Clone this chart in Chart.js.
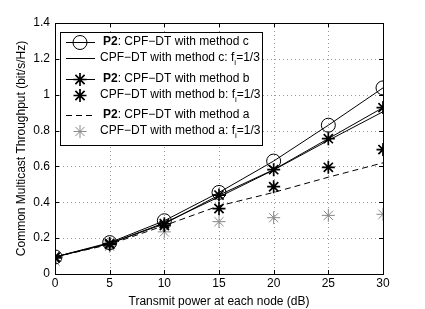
<!DOCTYPE html>
<html>
<head>
<meta charset="utf-8">
<script src="https://cdn.jsdelivr.net/npm/chart.js@4"></script>
<style>
html,body{margin:0;padding:0;background:#fff}
#wrap{width:425px;height:309px}
</style>
</head>
<body>
<div id="wrap"><canvas id="c" width="425" height="309"></canvas></div>
<script>
// transmit power (dB)
const power = [0,5,10,15,20,25,30]

// throughput values
const p2C  = [0.095,0.175,0.297,0.455,0.630,0.830,1.038]
const fixC = [0.095,0.170,0.285,0.430,0.580,0.745,0.905]
const p2B  = [0.095,0.170,0.280,0.440,0.582,0.755,0.928]
const fixB = [0.090,0.165,0.270,0.365,0.487,0.595,0.694]
const p2A  = [0.095,0.165,0.270,0.380,0.455,0.540,0.620]
const fixA = [0.072,0.155,0.235,0.292,0.314,0.327,0.333]

const yTicks = [0,0.2,0.4,0.6,0.8,1,1.2,1.4]
const xTicks = [0,5,10,15,20,25,30]

const FONT = "'Liberation Sans', Arial, sans-serif"
const FS = 12

const pts = arr => arr.map((v,i)=>({x:power[i],y:v}))

const datasets = [
{label:"P2c",data:pts(p2C),borderColor:"#000",borderWidth:1,pointStyle:"circle",pointRadius:7,pointBorderColor:"#000",pointBackgroundColor:"rgba(0,0,0,0)",pointBorderWidth:1},
{label:"fixC",data:pts(fixC),borderColor:"#000",borderWidth:1,pointRadius:0},
{label:"P2b",data:pts(p2B),borderColor:"#000",borderWidth:1,pointStyle:"star",pointRadius:6.5,pointBorderColor:"#000",pointBorderWidth:1.7},
{label:"fixB",data:pts(fixB),showLine:false,borderColor:"#000",pointStyle:"star",pointRadius:6.5,pointBorderColor:"#000",pointBorderWidth:1.7},
{label:"P2a",data:pts(p2A),borderColor:"#000",borderWidth:1,borderDash:[6,4],pointRadius:0},
{label:"fixA",data:pts(fixA),showLine:false,borderColor:"#888",pointStyle:"star",pointRadius:6.5,pointBorderColor:"#888",pointBorderWidth:1}
]

// legend rows: bold prefix, text, subscript, tail, which dataset style
const legendRows = [
{bold:"P2",text:": CPF\u2212DT with method c",ds:0,y:42},
{bold:"",text:"CPF\u2212DT with method c: f",sub:"i",tail:"=1/3",ds:1,y:58},
{bold:"P2",text:": CPF\u2212DT with method b",ds:2,y:79},
{bold:"",text:"CPF\u2212DT with method b: f",sub:"i",tail:"=1/3",ds:3,y:95},
{bold:"P2",text:": CPF\u2212DT with method a",ds:4,y:115},
{bold:"",text:"CPF\u2212DT with method a: f",sub:"i",tail:"=1/3",ds:5,y:131}
]

function star(ctx,x,y,r){
ctx.beginPath()
for(let k=0;k<4;k++){
const a=k*Math.PI/4
ctx.moveTo(x-Math.cos(a)*r,y-Math.sin(a)*r)
ctx.lineTo(x+Math.cos(a)*r,y+Math.sin(a)*r)
}
ctx.stroke()
}

const frame = {
id:"frame",
beforeDatasetsDraw(chart){
// dotted grid
const ctx=chart.ctx
const a=chart.chartArea
const xs=chart.scales.x, ys=chart.scales.y
ctx.save()
ctx.strokeStyle="#999"
ctx.lineWidth=1
ctx.setLineDash([1,3])
ctx.beginPath()
xTicks.slice(1,-1).forEach(t=>{
const px=Math.round(xs.getPixelForValue(t))+0.5
ctx.moveTo(px,a.top);ctx.lineTo(px,a.bottom)
})
yTicks.slice(1,-1).forEach(t=>{
const py=Math.round(ys.getPixelForValue(t))+0.5
ctx.moveTo(a.left,py);ctx.lineTo(a.right,py)
})
ctx.stroke()
ctx.restore()
},
afterDatasetsDraw(chart){
const ctx=chart.ctx
const a=chart.chartArea
const xs=chart.scales.x, ys=chart.scales.y
ctx.save()
ctx.strokeStyle="#000"
ctx.lineWidth=1
ctx.strokeRect(Math.round(a.left)+0.5,Math.round(a.top)+0.5,Math.round(a.right-a.left),Math.round(a.bottom-a.top))
ctx.beginPath()
xTicks.forEach(t=>{
const px=Math.round(xs.getPixelForValue(t))+0.5
ctx.moveTo(px,a.bottom);ctx.lineTo(px,a.bottom-4)
ctx.moveTo(px,a.top);ctx.lineTo(px,a.top+4)
})
yTicks.forEach(t=>{
const py=Math.round(ys.getPixelForValue(t))+0.5
ctx.moveTo(a.left,py);ctx.lineTo(a.left+4,py)
ctx.moveTo(a.right,py);ctx.lineTo(a.right-4,py)
})
ctx.stroke()

// legend
const L=60,T=32,R=262,B=145
ctx.fillStyle="#fff"
ctx.fillRect(L,T,R-L,B-T)
ctx.strokeRect(L+0.5,T+0.5,R-L,B-T)
legendRows.forEach(r=>{
const ds=datasets[r.ds]
const cx=80
if(ds.showLine!==false){
ctx.save()
ctx.strokeStyle=ds.borderColor
ctx.lineWidth=ds.borderWidth
if(ds.borderDash) ctx.setLineDash(ds.borderDash)
ctx.beginPath();ctx.moveTo(66,r.y+0.5);ctx.lineTo(95,r.y+0.5);ctx.stroke()
ctx.restore()
}
if(ds.pointRadius){
ctx.save()
ctx.strokeStyle=ds.pointBorderColor
ctx.lineWidth=ds.pointBorderWidth
if(ds.pointStyle==="circle"){
ctx.beginPath();ctx.arc(cx,r.y+0.5,ds.pointRadius,0,Math.PI*2);ctx.stroke()
}else{
star(ctx,cx,r.y+0.5,ds.pointRadius)
}
ctx.restore()
}
ctx.fillStyle="#000"
ctx.textBaseline="middle"
let x=r.bold?103:100
if(r.bold){
ctx.font="bold "+FS+"px "+FONT
ctx.fillText(r.bold,x,r.y)
x+=ctx.measureText(r.bold).width
}
ctx.font=FS+"px "+FONT
ctx.fillText(r.text,x,r.y)
x+=ctx.measureText(r.text).width
if(r.sub){
ctx.font="8px "+FONT
ctx.fillText(r.sub,x,r.y+5)
x+=ctx.measureText(r.sub).width
ctx.font=FS+"px "+FONT
ctx.fillText(r.tail,x,r.y)
}
})
ctx.restore()
}
}

new Chart(
document.getElementById("c"),
{
type:"line",
data:{datasets:datasets},
plugins:[frame],
options:{
responsive:false,
animation:false,
layout:{padding:{top:23,right:42,left:0,bottom:0}},
plugins:{legend:{display:false},tooltip:{enabled:false}},
scales:{
x:{
type:"linear",min:0,max:30,
afterFit:s=>{s.height=35},
afterBuildTicks:s=>{s.ticks=xTicks.map(v=>({value:v}))},
ticks:{color:"#000",font:{family:FONT,size:FS},padding:2,maxRotation:0},
grid:{display:false,drawTicks:false},
border:{display:false},
title:{display:true,text:"Transmit power at each node (dB)",color:"#000",font:{family:FONT,size:FS},padding:{top:0,bottom:0}}
},
y:{
min:0,max:1.4,
afterFit:s=>{s.width=55},
afterBuildTicks:s=>{s.ticks=yTicks.map(v=>({value:v}))},
ticks:{color:"#000",font:{family:FONT,size:FS},padding:5,callback:v=>String(Math.round(v*10)/10)},
grid:{display:false,drawTicks:false},
border:{display:false},
title:{display:true,text:"Common Multicast Throughput (bit/s/Hz)",color:"#000",font:{family:FONT,size:FS},padding:{top:14,bottom:0}}
}
}
}
}
)
</script>
</body>
</html>
